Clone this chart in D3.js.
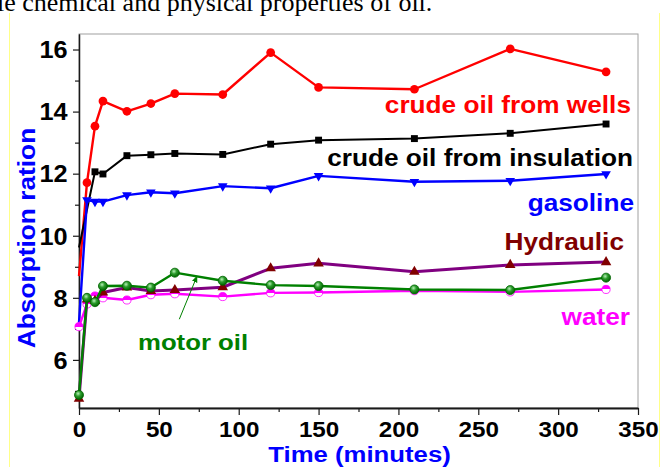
<!DOCTYPE html>
<html>
<head>
<meta charset="utf-8">
<script src="https://cdn.jsdelivr.net/npm/d3@7"></script>
<style>
  html, body { margin: 0; padding: 0; background: #fff; overflow: hidden; }
  svg { display: block; }
</style>
</head>
<body>
<div id="chart-area"></div>
<script>
// --> DATA
var times = [0, 5, 10, 15, 30, 45, 60, 90, 120, 150, 210, 270, 330];
var insulationTimes = [0, 10, 15, 30, 45, 60, 90, 120, 150, 210, 270, 330];

var wells      = [8.70, 11.71, 13.53, 14.34, 14.01, 14.26, 14.58, 14.55, 15.90, 14.78, 14.72, 16.02, 15.28];
var insulation = [9.62, 12.06, 11.99, 12.58, 12.61, 12.65, 12.62, 12.95, 13.08, 13.13, 13.30, 13.60];
var gasoline   = [7.20, 11.15, 11.10, 11.10, 11.31, 11.40, 11.37, 11.60, 11.53, 11.93, 11.74, 11.77, 11.99];
var hydraulic  = [4.75, 7.95, 7.90, 8.17, 8.33, 8.22, 8.25, 8.34, 8.95, 9.11, 8.84, 9.06, 9.15];
var motorOil   = [4.87, 8.00, 7.86, 8.38, 8.39, 8.33, 8.81, 8.55, 8.41, 8.38, 8.27, 8.25, 8.65];
var water      = [7.07, 7.80, 8.06, 8.00, 7.93, 8.10, 8.13, 8.04, 8.16, 8.17, 8.23, 8.19, 8.27];

var xTicks = [0, 50, 100, 150, 200, 250, 300, 350];
var xMinorTicks = [25, 75, 125, 175, 225, 275, 325];
var yTicks = [6, 8, 10, 12, 14, 16];
var yMinorTicks = [5, 7, 9, 11, 13, 15];

// arrow for "motor oil" label, in data units [time, ratio]
var motorArrow = [[62.8, 7.31], [73.9, 8.70]];

// --> SVG DRAWING AREA
var W = 661, H = 467;
var plot = { left: 79, right: 638, top: 34, bottom: 408 };
var FONT = "'Liberation Sans', Arial, sans-serif";

var svg = d3.select("#chart-area").append("svg")
    .attr("width", W)
    .attr("height", H);

var defs = svg.append("defs");

// green "ball" markers
var gBall = defs.append("radialGradient").attr("id", "greenBall")
    .attr("cx", "40%").attr("cy", "35%").attr("r", "65%");
gBall.append("stop").attr("offset", "0%").attr("stop-color", "#b8f0b8");
gBall.append("stop").attr("offset", "45%").attr("stop-color", "#2c9c2c");
gBall.append("stop").attr("offset", "100%").attr("stop-color", "#006400");

// half-filled magenta markers
var mHalf = defs.append("linearGradient").attr("id", "magHalf")
    .attr("x1", 0).attr("y1", 0).attr("x2", 0).attr("y2", 1);
mHalf.append("stop").attr("offset", "50%").attr("stop-color", "#ff00ff");
mHalf.append("stop").attr("offset", "50%").attr("stop-color", "#ffffff");

var arrowMarker = defs.append("marker").attr("id", "arrowHead")
    .attr("viewBox", "0 0 10 10").attr("refX", 9).attr("refY", 5)
    .attr("markerWidth", 7).attr("markerHeight", 7)
    .attr("orient", "auto");
arrowMarker.append("path").attr("d", "M0,1 L10,5 L0,9 Z").attr("fill", "#008000");

// page header line from the paper (cut at the top)
svg.append("text")
    .attr("x", -3).attr("y", 11)
    .attr("font-family", "'Liberation Serif', 'Times New Roman', serif")
    .attr("font-size", 26)
    .attr("fill", "#000")
    .text("le chemical and physical properties of oil.");

// faint yellow page borders
svg.append("line").attr("x1", 9.5).attr("x2", 9.5).attr("y1", 13).attr("y2", H)
    .attr("stroke", "#ffff88").attr("stroke-width", 1);
svg.append("line").attr("x1", 659.5).attr("x2", 659.5).attr("y1", 13).attr("y2", H)
    .attr("stroke", "#ffff88").attr("stroke-width", 1);

// --> SCALES
var x = d3.scaleLinear().domain([0, 350]).range([plot.left, plot.right]);
var y = d3.scaleLinear().domain([4.45, 16.5]).range([plot.bottom, plot.top]);

// frame (top / right in grey)
svg.append("rect")
    .attr("x", plot.left).attr("y", plot.top)
    .attr("width", plot.right - plot.left).attr("height", plot.bottom - plot.top)
    .attr("fill", "none").attr("stroke", "#a0a0a0").attr("stroke-width", 1);

// helper: stretched bold text
function label(px, py, txt, color, size, sx, anchor, rot) {
    var g = svg.append("g")
        .attr("transform", "translate(" + px + "," + py + ")" + (rot ? " rotate(" + rot + ")" : ""));
    g.append("text")
        .attr("transform", "scale(" + sx + ",1)")
        .attr("text-anchor", anchor || "start")
        .attr("font-family", FONT)
        .attr("font-weight", "bold")
        .attr("font-size", size)
        .attr("fill", color)
        .text(txt);
    return g;
}

// --> AXES
var tickSX = 1.1;

var yAxis = svg.append("g")
    .attr("transform", "translate(" + plot.left + ",0)")
    .call(d3.axisLeft(y).tickValues(yTicks).tickSize(6).tickSizeOuter(0).tickPadding(3));
svg.append("g")
    .attr("transform", "translate(" + plot.left + ",0)")
    .call(d3.axisLeft(y).tickValues(yMinorTicks).tickSize(4).tickSizeOuter(0).tickFormat(""));

var xAxis = svg.append("g")
    .attr("transform", "translate(0," + plot.bottom + ")")
    .call(d3.axisBottom(x).tickValues(xTicks).tickSize(7).tickSizeOuter(0));
svg.append("g")
    .attr("transform", "translate(0," + plot.bottom + ")")
    .call(d3.axisBottom(x).tickValues(xMinorTicks).tickSize(4).tickSizeOuter(0).tickFormat(""));

svg.selectAll(".domain").attr("stroke", "#1a1a1a");
svg.selectAll(".tick line").attr("stroke", "#1a1a1a").attr("stroke-width", 1.2);
xAxis.select(".domain").attr("stroke-width", 2);
yAxis.select(".domain").attr("stroke-width", 1.5);

yAxis.selectAll("text")
    .attr("font-family", FONT).attr("font-weight", "bold").attr("font-size", 23)
    .attr("fill", "#000")
    .attr("x", -11.5 / tickSX)
    .attr("dy", "0.36em")
    .attr("transform", "scale(" + tickSX + ",1)");

xAxis.selectAll("text")
    .attr("font-family", FONT).attr("font-weight", "bold").attr("font-size", 22)
    .attr("fill", "#000")
    .attr("y", 29).attr("dy", 0)
    .attr("transform", "scale(" + tickSX + ",1)");

// axis titles
label((plot.left + plot.right) / 2 + 1, 461.5, "Time (minutes)", "#0000ff", 22, 1.17, "middle");
label(35, 238, "Absorption ration", "#0000ff", 24, 1.095, "middle", -90);

// --> SERIES
function pts(ts, vs) { return ts.map(function(t, i) { return [t, vs[i]]; }); }

var series = [
    { name: "wells", data: pts(times, wells), line: "#ff0000", width: 2.4, symbol: d3.symbolCircle, size: 60, fill: "#ff0000", stroke: "none", rot: 0, skipFirst: true },
    { name: "insulation", data: pts(insulationTimes, insulation), line: "#000000", width: 2, symbol: d3.symbolSquare, size: 48, fill: "#000000", stroke: "none", rot: 0, skipFirst: true },
    { name: "gasoline", data: pts(times, gasoline), line: "#0000ff", width: 2.4, symbol: d3.symbolTriangle, size: 40, fill: "#0000ff", stroke: "none", rot: 180, skipFirst: true },
    { name: "water", data: pts(times, water), line: "#ff00ff", width: 2.4, symbol: d3.symbolCircle, size: 52, fill: "url(#magHalf)", stroke: "#ff00ff", rot: 0, skipFirst: false },
    { name: "hydraulic", data: pts(times, hydraulic), line: "#800080", width: 3, symbol: d3.symbolTriangle, size: 48, fill: "#800000", stroke: "none", rot: 0, skipFirst: false },
    { name: "motor", data: pts(times, motorOil), line: "#008000", width: 2.4, symbol: d3.symbolCircle, size: 64, fill: "url(#greenBall)", stroke: "#006400", rot: 0, skipFirst: false }
];

var lineGen = d3.line()
    .x(function(d) { return x(d[0]); })
    .y(function(d) { return y(d[1]); });

series.forEach(function(s) {
    svg.append("path")
        .datum(s.data)
        .attr("d", lineGen)
        .attr("fill", "none")
        .attr("stroke", s.line)
        .attr("stroke-width", s.width)
        .attr("stroke-linejoin", "round");

    var sym = d3.symbol().type(s.symbol).size(s.size);
    svg.selectAll("path.mk-" + s.name)
        .data(s.skipFirst ? s.data.slice(1) : s.data)
        .enter().append("path")
        .attr("class", "mk-" + s.name)
        .attr("d", sym)
        .attr("transform", function(d) {
            return "translate(" + x(d[0]) + "," + y(d[1]) + ")" + (s.rot ? " rotate(" + s.rot + ")" : "");
        })
        .attr("fill", s.fill)
        .attr("stroke", s.stroke)
        .attr("stroke-width", 0.8);
});

// --> SERIES LABELS
var serSX = 1.14;
label(631, 113, "crude oil from wells", "#ff0000", 23, serSX, "end");
label(633, 166, "crude oil from insulation", "#000000", 23, serSX, "end");
label(634, 211, "gasoline", "#0000ff", 23, serSX, "end");
label(624, 250, "Hydraulic", "#800000", 23, serSX, "end");
label(630, 325, "water", "#ff00ff", 23, serSX, "end");
label(138, 350, "motor oil", "#008000", 23, 1.12, "start");

svg.append("line")
    .attr("x1", x(motorArrow[0][0])).attr("y1", y(motorArrow[0][1]))
    .attr("x2", x(motorArrow[1][0])).attr("y2", y(motorArrow[1][1]))
    .attr("stroke", "#008000").attr("stroke-width", 1)
    .attr("marker-end", "url(#arrowHead)");
</script>
</body>
</html>
